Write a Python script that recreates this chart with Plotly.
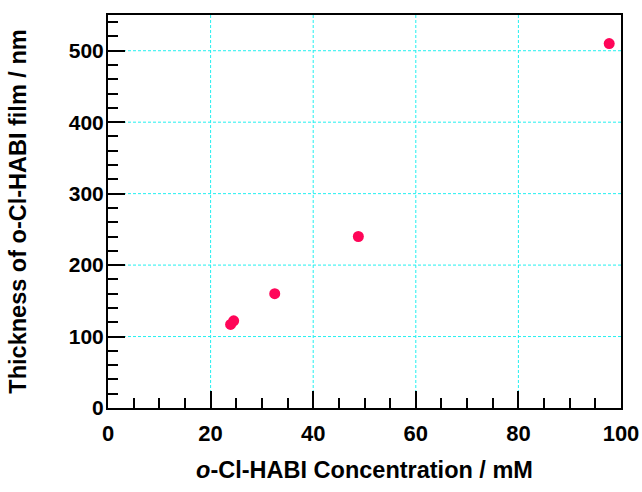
import plotly.graph_objects as go

concentration_mM = [23.9, 24.5, 32.5, 48.8, 97.7]
thickness_nm = [117, 122, 160, 240, 510]

x_tick_vals = [0, 20, 40, 60, 80, 100]
y_tick_vals = [0, 100, 200, 300, 400, 500]
x_range = [0, 100]
y_range = [0, 550]

font_family = "Liberation Sans, Arial, sans-serif"
grid_color = "#22f0f0"

fig = go.Figure()
fig.add_trace(go.Scatter(
    x=concentration_mM, y=thickness_nm, mode="markers",
    marker=dict(color="#ff0558", size=11, line=dict(width=0)),
    showlegend=False, cliponaxis=False,
))

# gridlines at the major ticks (drawn below the axis ticks)
for v in x_tick_vals[1:-1]:
    fig.add_shape(type="line", xref="x", yref="y", x0=v, x1=v, y0=y_range[0], y1=y_range[1],
                  line=dict(color=grid_color, width=1, dash="3px,2px"), layer="below")
for v in y_tick_vals[1:]:
    fig.add_shape(type="line", xref="x", yref="y", x0=x_range[0], x1=x_range[1], y0=v, y1=v,
                  line=dict(color=grid_color, width=1, dash="3px,2px"), layer="below")

axis_common = dict(
    showline=True, linecolor="black", linewidth=2, mirror=True,
    showgrid=False, zeroline=False, automargin=False,
    ticks="inside", ticklen=17, tickwidth=2, tickcolor="black",
)

fig.update_xaxes(
    range=x_range, tickvals=x_tick_vals, ticktext=[f"<b>{v}</b>" for v in x_tick_vals],
    tickfont=dict(family=font_family, size=22, color="black"),
    minor=dict(dtick=5, ticks="inside", ticklen=10, tickwidth=2, tickcolor="black", showgrid=False),
    title=dict(text="<b><i>o</i>-Cl-HABI Concentration / mM</b>",
               font=dict(family=font_family, size=23.5, color="black"), standoff=16),
    ticklabelstandoff=5,
    **axis_common,
)
fig.update_yaxes(
    range=y_range, tickvals=y_tick_vals, ticktext=[f"<b>{v}</b>" for v in y_tick_vals],
    tickfont=dict(family=font_family, size=21, color="black"),
    minor=dict(dtick=20, ticks="inside", ticklen=10, tickwidth=2, tickcolor="black", showgrid=False),
    title=dict(text="<b>Thickness of o-Cl-HABI film / nm</b>",
               font=dict(family=font_family, size=23.5, color="black"), standoff=36),
    ticklabelstandoff=-2,
    **axis_common,
)

fig.update_layout(
    width=642, height=492,
    margin=dict(l=108, r=21, t=15, b=84),
    paper_bgcolor="white", plot_bgcolor="white",
)

fig.write_html(
    "out.html",
    config={"displayModeBar": False},
    post_script="document.body.style.margin='0';document.body.style.overflow='hidden';",
)
